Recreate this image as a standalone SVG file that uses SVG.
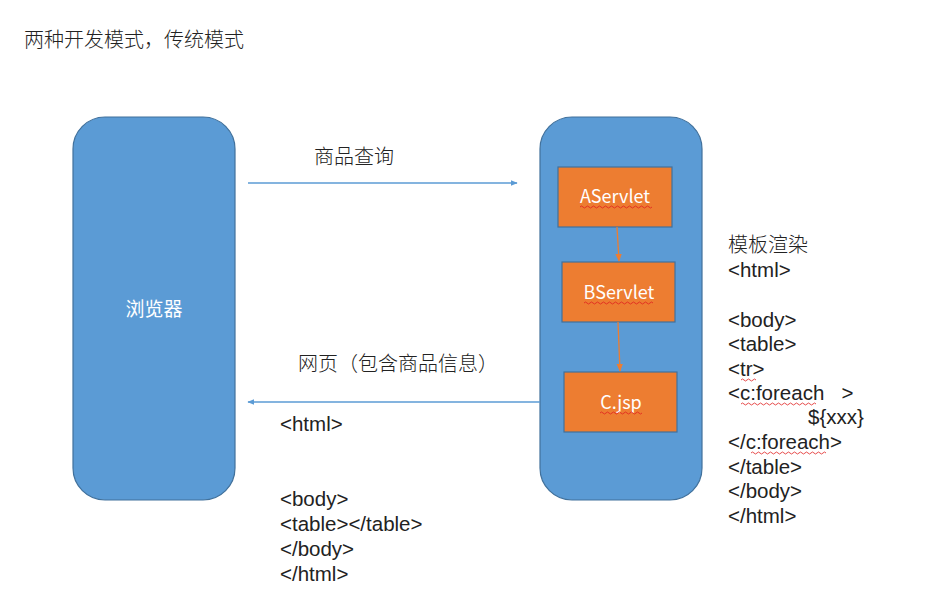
<svg xmlns="http://www.w3.org/2000/svg" width="946" height="604" viewBox="0 0 946 604">
<defs>
<style>
.t{font-family:"Noto Sans CJK SC","Liberation Sans",sans-serif;font-size:20px;fill:#222;font-weight:300}
.c{font-family:"Liberation Sans",Arial,sans-serif;font-size:20.5px;fill:#222}
.w{font-family:"Noto Sans CJK SC","Liberation Sans",sans-serif;fill:#fff}
.big{fill:#5b9bd5;stroke:#41719c;stroke-width:1.2}
.box{fill:#ed7d31;stroke:#41719c;stroke-width:1.2}
.blue{stroke:#5b9bd5;stroke-width:1.3;fill:none}
.or{stroke:#ed7d31;stroke-width:1.3;fill:none}
.sq{stroke:#e02020;stroke-width:0.8;fill:none}
</style>
<marker id="ab" viewBox="0 0 10 10" refX="9" refY="5" markerWidth="7" markerHeight="7" orient="auto" markerUnits="userSpaceOnUse"><path d="M0,1 L10,5 L0,9 z" fill="#5b9bd5"/></marker>
<marker id="ao" viewBox="0 0 10 10" refX="9" refY="5" markerWidth="8" markerHeight="8" orient="auto" markerUnits="userSpaceOnUse"><path d="M0,1 L10,5 L0,9 z" fill="#ed7d31"/></marker>
</defs>
<rect width="946" height="604" fill="#fff"/>
<text class="t" x="24" y="47">两种开发模式，传统模式</text>
<g id="browser">
<rect class="big" x="73" y="117" width="162" height="383" rx="32"/>
<text class="w" x="154" y="316" text-anchor="middle" font-size="19">浏览器</text>
</g>
<g id="server">
<rect class="big" x="540" y="117" width="162" height="383" rx="32"/>
</g>
<g id="aservlet">
<rect class="box" x="558" y="167" width="114" height="60"/>
<text class="w" x="615" y="203" text-anchor="middle" font-size="18">AServlet</text>
<path class="sq" d="M580,207 q1.5,-2 3,0 t3,0 t3,0 t3,0 t3,0 t3,0 t3,0 t3,0 t3,0 t3,0 t3,0 t3,0 t3,0 t3,0 t3,0 t3,0 t3,0 t3,0 t3,0 t3,0 t3,0 t3,0 t3,0 t3,0"/>
</g>
<g id="bservlet">
<rect class="box" x="562" y="262" width="113" height="60"/>
<text class="w" x="619" y="299" text-anchor="middle" font-size="18">BServlet</text>
<path class="sq" d="M584,303 q1.5,-2 3,0 t3,0 t3,0 t3,0 t3,0 t3,0 t3,0 t3,0 t3,0 t3,0 t3,0 t3,0 t3,0 t3,0 t3,0 t3,0 t3,0 t3,0 t3,0 t3,0 t3,0 t3,0 t3,0"/>
</g>
<g id="cjsp">
<rect class="box" x="564" y="372" width="113" height="60"/>
<text class="w" x="621" y="409" text-anchor="middle" font-size="18">C.jsp</text>
<path class="sq" d="M600,413 q1.5,-2 3,0 t3,0 t3,0 t3,0 t3,0 t3,0 t3,0 t3,0 t3,0 t3,0 t3,0 t3,0 t3,0 t3,0"/>
</g>
<g id="connectors">
<line class="blue" x1="248" y1="183" x2="517" y2="183" marker-end="url(#ab)"/>
<line class="blue" x1="540" y1="402" x2="248" y2="402" marker-end="url(#ab)"/>
<line class="or" x1="617" y1="227" x2="619" y2="261" marker-end="url(#ao)"/>
<line class="or" x1="618" y1="322" x2="620" y2="371" marker-end="url(#ao)"/>
</g>
<g id="labels">
<text class="t" x="314" y="164">商品查询</text>
<text class="t" x="298" y="371">网页（包含商品信息）</text>
<text class="c" x="280" y="431">&lt;html&gt;</text>
<text class="c" x="280" y="506">&lt;body&gt;</text>
<text class="c" x="280" y="531">&lt;table&gt;&lt;/table&gt;</text>
<text class="c" x="280" y="556">&lt;/body&gt;</text>
<text class="c" x="280" y="581">&lt;/html&gt;</text>
<text class="t" x="728" y="252">模板渲染</text>
<text class="c" x="728" y="277">&lt;html&gt;</text>
<text class="c" x="728" y="327">&lt;body&gt;</text>
<text class="c" x="728" y="351">&lt;table&gt;</text>
<text class="c" x="728" y="376">&lt;tr&gt;</text>
<text class="c" x="728" y="400" xml:space="preserve">&lt;c:foreach   &gt;</text>
<text class="c" x="808" y="424">${xxx}</text>
<text class="c" x="728" y="449">&lt;/c:foreach&gt;</text>
<text class="c" x="728" y="474">&lt;/table&gt;</text>
<text class="c" x="728" y="498">&lt;/body&gt;</text>
<text class="c" x="728" y="523">&lt;/html&gt;</text>
<path class="sq" d="M741,380 q1.5,-2 3,0 t3,0 t3,0 t3,0 t3,0"/>
<path class="sq" d="M741,404 q1.5,-2 3,0 t3,0 t3,0 t3,0 t3,0 t3,0 t3,0 t3,0 t3,0 t3,0 t3,0 t3,0 t3,0 t3,0 t3,0 t3,0 t3,0 t3,0 t3,0 t3,0 t3,0 t3,0 t3,0 t3,0 t3,0"/>
<path class="sq" d="M751,453 q1.5,-2 3,0 t3,0 t3,0 t3,0 t3,0 t3,0 t3,0 t3,0 t3,0 t3,0 t3,0 t3,0 t3,0 t3,0 t3,0 t3,0 t3,0 t3,0 t3,0 t3,0 t3,0 t3,0 t3,0 t3,0 t3,0"/>
</g>
</svg>
